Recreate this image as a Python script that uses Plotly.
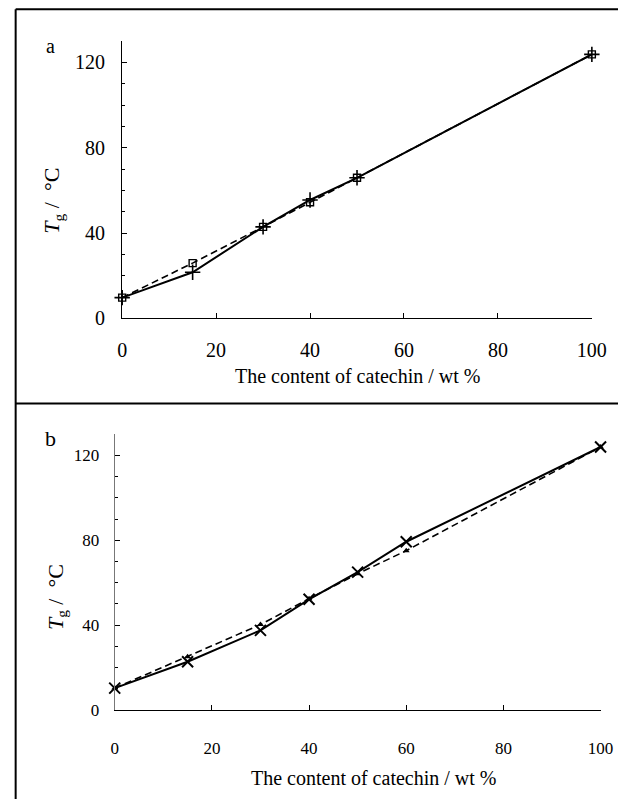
import plotly.graph_objects as go

W, H = 633, 810

# ---- data ----
content_a = [0, 15, 30, 40, 50, 100]
tg_a_solid = [9.7, 21.6, 42.9, 55.5, 65.9, 123.8]
tg_a_dashed = [9.7, 25.9, 42.9, 54.4, 65.9, 123.8]

content_b = [0, 15, 30, 40, 50, 60, 100]
tg_b_solid = [10.4, 22.8, 37.6, 52.2, 65.0, 79.3, 123.9]
tg_b_dashed = [10.4, 25.2, 40.3, 52.5, 64.2, 75.1, 123.9]

x_ticks = [0, 20, 40, 60, 80, 100]
y_ticks = [0, 40, 80, 120]
x_title = "The content of catechin / wt %"
y_title = "<i>T</i><sub>g</sub> /  °C"
panel_labels = ["a", "b"]

FONT = "Liberation Serif"

def px(x):
    return x / W

def py(y):
    return 1 - y / H

fig = go.Figure()

# panel a
fig.add_trace(go.Scatter(x=content_a, y=tg_a_solid, mode="lines+markers",
                         line=dict(color="black", width=2),
                         marker=dict(symbol="cross-thin-open", size=11,
                                     line=dict(color="black", width=1.6)),
                         cliponaxis=False, xaxis="x", yaxis="y", showlegend=False))
fig.add_trace(go.Scatter(x=content_a, y=tg_a_dashed, mode="lines+markers",
                         line=dict(color="black", width=1.6, dash="7px,4px"),
                         marker=dict(symbol="square-open", size=7,
                                     line=dict(color="black", width=1.4)),
                         cliponaxis=False, xaxis="x", yaxis="y", showlegend=False))
# panel b
fig.add_trace(go.Scatter(x=content_b, y=tg_b_solid, mode="lines+markers",
                         line=dict(color="black", width=2),
                         marker=dict(symbol="x-thin-open", size=11,
                                     line=dict(color="black", width=2)),
                         cliponaxis=False, xaxis="x2", yaxis="y2", showlegend=False))
fig.add_trace(go.Scatter(x=content_b, y=tg_b_dashed, mode="lines+markers",
                         line=dict(color="black", width=1.6, dash="7px,4px"),
                         marker=dict(symbol="triangle-up", size=6, color="black"),
                         cliponaxis=False, xaxis="x2", yaxis="y2", showlegend=False))

def xaxis(domain, anchor, fs, standoff):
    return dict(domain=domain, anchor=anchor, range=[0, 100], tickvals=x_ticks,
                ticks="inside", ticklen=5, tickwidth=1, tickcolor="black",
                showline=True, linecolor="black", linewidth=1,
                showgrid=False, zeroline=False, mirror=False,
                tickfont=dict(family=FONT, size=fs, color="black"),
                ticklabelstandoff=standoff)

def yaxis(domain, anchor, fs, standoff, lc):
    return dict(domain=domain, anchor=anchor, range=[0, 130], tickvals=y_ticks,
                ticks="inside", ticklen=5, tickwidth=1, tickcolor="black",
                minor=dict(dtick=10, tick0=0, ticks="inside", ticklen=3,
                           tickwidth=1, tickcolor="black"),
                showline=True, linecolor=lc, linewidth=1.3,
                showgrid=False, zeroline=False,
                tickfont=dict(family=FONT, size=fs, color="black"),
                ticklabelstandoff=standoff)

# pixel geometry
ax_l, ax_r, ay_b, ay_t = 121, 606, 322.7, 41.7
bx_l, bx_r, by_b, by_t = 113.3, 615, 720, 440

fig.update_layout(
    width=W, height=H, autosize=False,
    margin=dict(l=0, r=0, t=0, b=0),
    paper_bgcolor="white", plot_bgcolor="white",
    xaxis=xaxis([px(ax_l), px(ax_r)], "y", 20, 14),
    yaxis=yaxis([py(ay_b), py(ay_t)], "x", 20, 12, "black"),
    xaxis2=xaxis([px(bx_l), px(bx_r)], "y2", 17, 22),
    yaxis2=yaxis([py(by_b), py(by_t)], "x2", 17, 11, "#777777"),
    font=dict(family=FONT, color="black"),
)

annotations = [
    dict(text=x_title, x=px(364), y=py(381), font=dict(size=20)),
    dict(text=x_title, x=px(381), y=py(789), font=dict(size=20)),
    dict(text=y_title, x=px(50), y=py(203), font=dict(size=22), textangle=-90),
    dict(text=y_title, x=px(53), y=py(605), font=dict(size=22), textangle=-90),
    dict(text=panel_labels[0], x=px(47), y=py(47), font=dict(size=20)),
    dict(text=panel_labels[1], x=px(47), y=py(445), font=dict(size=22)),
]
for a in annotations:
    a.update(xref="paper", yref="paper", showarrow=False,
             xanchor="center", yanchor="middle")
    a["font"].update(family=FONT, color="black")
fig.update_layout(annotations=annotations)

shapes = [
    dict(type="line", x0=px(11), x1=1.0, y0=py(9.3), y1=py(9.3)),
    dict(type="line", x0=px(11), x1=1.0, y0=py(409), y1=py(409)),
    dict(type="line", x0=px(11), x1=px(11), y0=py(9.3), y1=0),
]
for s in shapes:
    s.update(xref="paper", yref="paper", line=dict(color="black", width=2))
fig.update_layout(shapes=shapes)

fig.write_html("out.html")
